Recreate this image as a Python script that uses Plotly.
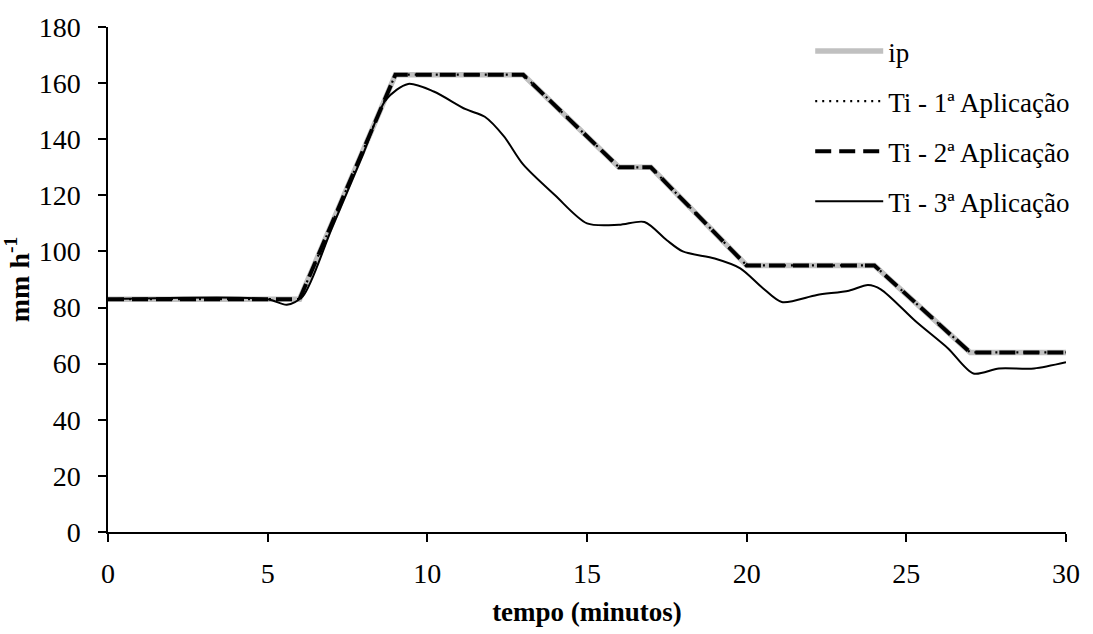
import plotly.graph_objects as go

# ---- data ----
tempo_ip = [0, 6, 9, 13, 16, 17, 20, 24, 27, 30]
ip = [83, 83, 163, 163, 130, 130, 95, 95, 64, 64]
ti1 = [83, 83, 163, 163, 130, 130, 95, 95, 64, 64]
ti2 = [83, 83, 163, 163, 130, 130, 95, 95, 64, 64]

tempo_ti3 = [0, 5, 5.6, 6.1, 7, 8, 8.7, 9.4, 10.2, 11.2, 11.8, 12.4, 13, 14, 15, 16,
             16.8, 17.5, 18, 19, 19.8, 20.5, 21.1, 22.2, 23.2, 23.8, 24.2, 25.3, 26.3,
             27.1, 27.9, 29, 30]
ti3 = [83, 83, 81, 84, 108, 135, 154, 159.7, 157, 150.7, 148, 141, 131, 120, 110, 109.5,
       110.5, 104, 100, 97.5, 94, 87, 82, 84.5, 86, 88, 86.5, 75, 65.5,
       56.5, 58.3, 58.3, 60.5]

names = ["ip", "Ti - 1ª Aplicação", "Ti - 2ª Aplicação", "Ti - 3ª Aplicação"]
x_ticks = [0, 5, 10, 15, 20, 25, 30]
y_ticks = [0, 20, 40, 60, 80, 100, 120, 140, 160, 180]

FONT = "Liberation Serif"

fig = go.Figure()
fig.add_trace(go.Scatter(x=tempo_ip, y=ip, name=names[0], mode="lines", legendgroup="a",
                         line=dict(color="#C0C0C0", width=5.5)))
fig.add_trace(go.Scatter(x=tempo_ip, y=ti1, name=names[1], mode="lines", legendgroup="b",
                         line=dict(color="black", width=2.2, dash="2px,5px")))
fig.add_trace(go.Scatter(x=tempo_ip, y=ti2, name=names[2], mode="lines", legendgroup="c",
                         line=dict(color="black", width=4, dash="16px,8px")))
fig.add_trace(go.Scatter(x=tempo_ti3, y=ti3, name=names[3], mode="lines", legendgroup="d",
                         line=dict(color="black", width=2, shape="spline", smoothing=0.8)))

fig.update_layout(
    width=1093, height=634,
    margin=dict(l=108, r=27, t=20, b=98),
    paper_bgcolor="white", plot_bgcolor="white",
    font=dict(family=FONT, color="black", size=27),
    showlegend=True,
    legend=dict(x=0.733, y=1.0, xanchor="left", yanchor="top",
                itemwidth=68, tracegroupgap=12, bgcolor="rgba(0,0,0,0)",
                font=dict(family=FONT, size=27, color="black")),
)
fig.update_xaxes(range=[0, 30], tickvals=x_ticks, showgrid=False, zeroline=False,
                 showline=True, linecolor="black", linewidth=1.5,
                 ticks="outside", ticklen=8, tickcolor="black", tickwidth=1.5,
                 tickfont=dict(family=FONT, size=28), ticklabelstandoff=8,
                 title=dict(text="<b>tempo (minutos)</b>", standoff=14,
                            font=dict(family=FONT, size=27)))
fig.update_yaxes(range=[0, 180], tickvals=y_ticks, showgrid=False, zeroline=False,
                 showline=True, linecolor="black", linewidth=1.5,
                 ticks="outside", ticklen=8, tickcolor="black", tickwidth=1.5,
                 tickfont=dict(family=FONT, size=28), ticklabelstandoff=12,
                 title=dict(text="<b>mm h<sup>-1</sup></b>", standoff=4,
                            font=dict(family=FONT, size=28)))

fig.write_html("out.html")
